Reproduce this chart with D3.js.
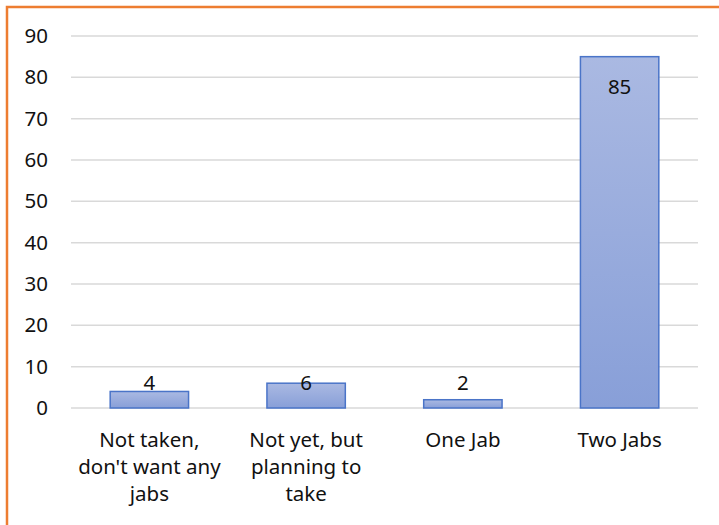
<!DOCTYPE html>
<html>
<head>
<meta charset="utf-8">
<script src="https://cdn.jsdelivr.net/npm/d3@7"></script>
<style>
  html, body { margin: 0; padding: 0; background: #fff; }
  svg { display: block; }
</style>
</head>
<body>
<svg id="chart" width="719" height="525"></svg>
<script>
// Vaccination status responses (percent)
const categories = [
  ["Not taken,", "don't want any", "jabs"],
  ["Not yet, but", "planning to", "take"],
  ["One Jab"],
  ["Two Jabs"]
];
const values = [4, 6, 2, 85];
const yTicks = [0, 10, 20, 30, 40, 50, 60, 70, 80, 90];

const W = 719, H = 525;
const margin = { top: 36, right: 21, bottom: 117, left: 71 };
const font = "'Noto Sans', 'Open Sans', sans-serif";
const fs = 20.5;

const svg = d3.select("#chart");

// gradient fill for each column (light at the top, deeper at the base)
const grad = svg.append("defs").append("linearGradient")
  .attr("id", "barGrad").attr("x1", 0).attr("y1", 0).attr("x2", 0).attr("y2", 1);
grad.append("stop").attr("offset", 0).attr("stop-color", "#aab9e2");
grad.append("stop").attr("offset", 1).attr("stop-color", "#889fd8");

const x = d3.scaleBand()
  .domain(d3.range(categories.length))
  .range([margin.left, W - margin.right])
  .paddingInner(0.5).paddingOuter(0.25);

const y = d3.scaleLinear()
  .domain([0, 90])
  .range([H - margin.bottom, margin.top]);

// horizontal gridlines
svg.append("g")
  .selectAll("line")
  .data(yTicks)
  .join("line")
  .attr("x1", margin.left).attr("x2", W - margin.right)
  .attr("y1", d => y(d)).attr("y2", d => y(d))
  .attr("stroke", "#d9d9d9").attr("stroke-width", 1.5);

// y axis labels
const yAxis = d3.axisLeft(y).tickValues(yTicks).tickSize(0).tickPadding(23);
const gy = svg.append("g").attr("transform", `translate(${margin.left},0)`).call(yAxis);
gy.select(".domain").remove();
gy.selectAll("text").attr("font-family", font).attr("font-size", fs).attr("fill", "#111");

// columns
svg.append("g")
  .selectAll("rect")
  .data(values)
  .join("rect")
  .attr("x", (d, i) => x(i))
  .attr("width", x.bandwidth())
  .attr("y", d => y(d))
  .attr("height", d => y(0) - y(d))
  .attr("fill", "url(#barGrad)")
  .attr("stroke", "#4a74c8").attr("stroke-width", 1.5);

// value labels: inside the top end of the column, kept above the baseline
svg.append("g")
  .selectAll("text")
  .data(values)
  .join("text")
  .attr("x", (d, i) => x(i) + x.bandwidth() / 2)
  .attr("y", d => Math.min(y(d) + 30, y(0) - 25))
  .attr("dy", "0.35em")
  .attr("text-anchor", "middle")
  .attr("font-family", font).attr("font-size", fs).attr("fill", "#111")
  .text(d => d);

// category labels
const cat = svg.append("g")
  .selectAll("text")
  .data(categories)
  .join("text")
  .attr("x", (d, i) => x(i) + x.bandwidth() / 2)
  .attr("y", y(0) + 32)
  .attr("text-anchor", "middle")
  .attr("font-family", font).attr("font-size", fs).attr("fill", "#111");
cat.selectAll("tspan")
  .data(d => d)
  .join("tspan")
  .attr("x", function () { return d3.select(this.parentNode).attr("x"); })
  .attr("dy", (d, i) => i === 0 ? "0.35em" : 27)
  .text(d => d);

// outer frame (top and left edges visible)
svg.append("path")
  .attr("d", `M7,${H} L7,7 L${W},7`)
  .attr("fill", "none").attr("stroke", "#ed7d31").attr("stroke-width", 2.5);
</script>
</body>
</html>
